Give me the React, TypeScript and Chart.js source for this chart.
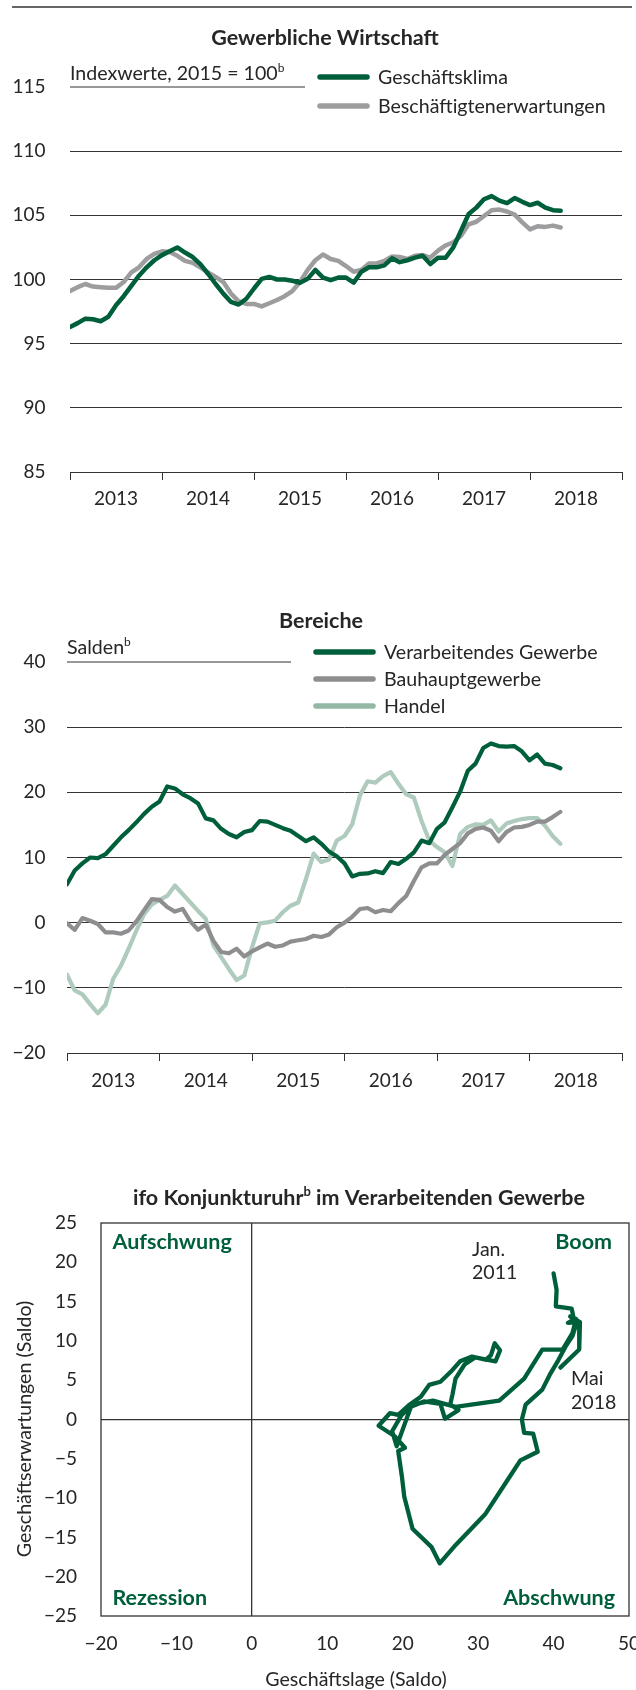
import React, { useEffect, useRef } from "react";
import { Chart, registerables } from "chart.js";

Chart.register(...registerables);

if (typeof document !== "undefined") {
  document.body.style.margin = "0";
}

const FONT = "Lato, 'Noto Sans', sans-serif";
const INK = "#262626";
const RULE = "#333333";
const GREEN = "#005f3b";
const GRAY = "#9d9d9f";
const GRAY_DARK = "#8e8e91";
const LIGHT_GREEN = "#aecbbd";
const LEGEND_LIGHT = "#93b9a6";

// ---------- Chart 1: Gewerbliche Wirtschaft (monthly, Jan 2013 – May 2018) ----------
const years = ["2013", "2014", "2015", "2016", "2017", "2018"];
const geschaeftsklima = [
  96.3, 96.6, 96.95, 96.9, 96.75, 97.1, 98.0, 98.7, 99.5, 100.3, 100.95, 101.5,
  101.9, 102.2, 102.5, 102.1, 101.75, 101.2, 100.45, 99.65, 98.9, 98.25, 98.05, 98.5,
  99.3, 100.05, 100.2, 100.0, 100.0, 99.9, 99.75, 100.05, 100.75, 100.15, 99.95, 100.15,
  100.15, 99.75, 100.6, 100.95, 100.95, 101.1, 101.65, 101.35, 101.5, 101.7, 101.85, 101.2,
  101.7, 101.7, 102.5, 103.8, 105.1, 105.6, 106.25, 106.5, 106.15, 105.95, 106.35, 106.05,
  105.8, 105.98, 105.6, 105.4, 105.35,
];
const beschaeftigtenerwartungen = [
  99.1, 99.4, 99.65, 99.45, 99.4, 99.35, 99.35, 99.8, 100.55, 100.95, 101.6, 102.0,
  102.2, 102.15, 101.85, 101.45, 101.3, 100.95, 100.55, 100.2, 99.8, 98.9, 98.3, 98.1,
  98.1, 97.9, 98.15, 98.4, 98.7, 99.1, 99.8, 100.75, 101.5, 101.95, 101.6, 101.45,
  101.05, 100.6, 100.75, 101.25, 101.25, 101.45, 101.8, 101.75, 101.6, 101.85, 101.9, 101.7,
  102.25, 102.65, 102.9, 103.4, 104.3, 104.5, 104.95, 105.4, 105.45, 105.3, 105.05, 104.45,
  103.9, 104.15, 104.1, 104.2, 104.05,
];

// ---------- Chart 2: Bereiche (Salden) ----------
const verarbeitendesGewerbe = [
  5.9, 8.0, 9.1, 10.0, 9.9, 10.5, 11.8, 13.1, 14.2, 15.4, 16.7, 17.8,
  18.6, 20.9, 20.6, 19.7, 19.1, 18.3, 16.0, 15.7, 14.4, 13.6, 13.1, 13.9,
  14.2, 15.6, 15.5, 15.0, 14.5, 14.1, 13.3, 12.5, 13.1, 12.1, 10.9, 10.2,
  9.1, 7.1, 7.5, 7.55, 7.9, 7.6, 9.3, 9.0, 9.8, 10.8, 12.6, 12.2,
  14.4, 15.4, 17.7, 20.1, 23.3, 24.4, 26.8, 27.5, 27.1, 27.0, 27.1, 26.3,
  24.9, 25.8, 24.4, 24.2, 23.7,
];
const bauhauptgewerbe = [
  -0.1, -1.1, 0.7, 0.3, -0.2, -1.5, -1.5, -1.7, -1.2, 0.2, 1.9, 3.6,
  3.5, 2.4, 1.7, 2.1, 0.2, -1.1, -0.3, -2.8, -4.5, -4.7, -4.0, -5.2,
  -4.4, -3.8, -3.2, -3.7, -3.5, -2.9, -2.7, -2.5, -2.0, -2.2, -1.8, -0.7,
  0.0, 0.9, 2.1, 2.25, 1.6, 1.95, 1.75, 3.0, 4.1, 6.4, 8.5, 9.1,
  9.1, 10.4, 11.3, 12.2, 13.7, 14.4, 14.6, 14.1, 12.5, 13.9, 14.6, 14.7,
  15.0, 15.5, 15.5, 16.2, 17.0,
];
const handel = [
  -8.0, -10.4, -11.0, -12.5, -13.9, -12.6, -8.6, -6.6, -4.0, -1.2, 1.3, 2.8,
  3.5, 4.1, 5.7, 4.4, 3.1, 1.8, 0.6, -3.5, -5.3, -7.1, -8.8, -8.1,
  -3.8, -0.1, 0.05, 0.3, 1.6, 2.6, 3.1, 6.7, 10.6, 9.3, 9.7, 12.6,
  13.3, 15.1, 19.5, 21.7, 21.5, 22.5, 23.1, 21.3, 19.7, 19.2, 15.6, 12.6,
  11.6, 10.8, 8.7, 13.6, 14.7, 15.1, 15.0, 15.7, 14.0, 15.2, 15.6, 15.9,
  16.05, 16.05, 14.9, 13.3, 12.1,
];

// ---------- Chart 3: ifo Konjunkturuhr (Jan 2011 – May 2018) ----------
const geschaeftslage = [
  40.0, 40.4, 40.3, 42.4, 42.7, 41.9, 43.1, 42.5, 41.6, 40.6, 39.5, 38.5,
  36.3, 35.8, 36.1, 37.3, 37.9, 35.6, 33.9, 30.9, 26.8, 24.9, 23.8, 21.3,
  20.2, 19.9, 19.4, 20.3, 18.9, 16.8, 18.3, 19.4, 20.8, 22.4, 23.5, 25.0,
  26.4, 27.6, 29.2, 31.0, 31.7, 32.2, 32.9, 32.3, 29.6, 28.2, 27.0, 26.6,
  26.3, 27.4, 25.6, 25.0, 22.8, 21.0, 19.8, 18.6, 19.2, 20.1, 21.2, 24.0,
  27.0, 32.8, 36.1, 38.5, 41.2, 42.5, 43.0, 42.2, 43.5, 43.4, 40.9,
];
const geschaeftserwartungen = [
  18.6, 16.5, 14.4, 14.1, 12.7, 12.3, 12.4, 10.6, 9.3, 7.5, 5.7, 3.8,
  1.9, 0.0, -1.7, -1.8, -4.1, -5.2, -7.7, -12.1, -16.2, -18.3, -16.2, -13.9,
  -9.8, -7.3, -4.0, -3.6, -2.1, -0.8, 0.8, 0.6, 1.8, 2.9, 4.4, 4.8,
  6.1, 7.4, 8.0, 7.6, 8.2, 9.7, 8.8, 7.4, 7.9, 7.0, 5.2, 3.2,
  1.9, 1.2, 0.1, 2.0, 2.3, 1.6, 0.5, -1.5, -3.4, -1.0, 1.9, 2.4,
  1.6, 2.4, 5.2, 8.9, 8.9, 11.0, 12.8, 13.1, 12.4, 8.9, 6.6,
];

// ---------- helpers ----------
const toXY = (arr: number[]) => arr.map((y, i) => ({ x: i, y }));
const fmt = (v: number) => (v < 0 ? "\u2212" + Math.abs(v) : String(v));

type Part = [string, boolean];

function drawRich(
  ctx: CanvasRenderingContext2D,
  parts: Part[],
  x: number,
  y: number,
  size: number,
  weight: string,
  color: string,
  align: "left" | "center" | "right" = "left"
) {
  const base = `${weight} ${size}px ${FONT}`;
  const sup = `${weight} ${Math.round(size * 0.6)}px ${FONT}`;
  let total = 0;
  parts.forEach(([t, s]) => {
    ctx.font = s ? sup : base;
    total += ctx.measureText(t).width;
  });
  let cx = align === "center" ? x - total / 2 : align === "right" ? x - total : x;
  ctx.fillStyle = color;
  ctx.textBaseline = "alphabetic";
  ctx.textAlign = "left";
  parts.forEach(([t, s]) => {
    ctx.font = s ? sup : base;
    ctx.fillText(t, cx, s ? y - size * 0.4 : y);
    cx += ctx.measureText(t).width;
  });
}

function hline(ctx: CanvasRenderingContext2D, x1: number, x2: number, y: number, color: string, w: number, cap: CanvasLineCap = "butt") {
  ctx.beginPath();
  ctx.strokeStyle = color;
  ctx.lineWidth = w;
  ctx.lineCap = cap;
  ctx.moveTo(x1, y);
  ctx.lineTo(x2, y);
  ctx.stroke();
}

function legend(ctx: CanvasRenderingContext2D, items: { label: string; color: string; y: number; base: number }[], x1: number, x2: number, tx: number) {
  items.forEach((it) => {
    hline(ctx, x1, x2, it.y, it.color, 5.5, "round");
    drawRich(ctx, [[it.label, false]], tx, it.base, 19.6, "normal", INK);
  });
}

function ChartCanvas({ height, make }: { height: number; make: () => any }) {
  const ref = useRef<HTMLCanvasElement | null>(null);
  useEffect(() => {
    if (!ref.current) return;
    const chart = new Chart(ref.current, make());
    return () => chart.destroy();
  }, []);
  return (
    <canvas ref={ref} width={636} height={height} style={{ display: "block", width: 636, height }} />
  );
}

const tickFont = { family: FONT, size: 19 };
const BOLD = 21.5;

const noPad = (s: any) => {
  s.paddingLeft = 0;
  s.paddingRight = 0;
  s.paddingTop = 0;
  s.paddingBottom = 0;
};

function timeSeriesConfig(opts: {
  height: number;
  top: number;
  bottom: number;
  left: number;
  right: number;
  yMin: number;
  yMax: number;
  step: number;
  yPad: number;
  xPad: number;
  datasets: any[];
  deco: any;
}) {
  return {
    type: "line",
    data: { labels: years, datasets: opts.datasets },
    options: {
      responsive: false,
      animation: false,
      devicePixelRatio: 1,
      layout: {
        autoPadding: false,
        padding: { top: opts.top, bottom: 0, left: 0, right: 636 - opts.right },
      },
      plugins: { legend: { display: false }, tooltip: { enabled: false }, title: { display: false } },
      scales: {
        x: {
          type: "category",
          offset: true,
          grid: { offset: true, drawOnChartArea: false, drawTicks: true, tickLength: 8, color: RULE, lineWidth: 1 },
          border: { display: true, color: RULE, width: 1 },
          ticks: { font: tickFont, color: INK, padding: opts.xPad, maxRotation: 0, autoSkip: false },
          afterFit: (s: any) => {
            s.height = opts.height - opts.bottom;
            noPad(s);
          },
        },
        x2: { type: "linear", min: 0, max: 72, display: false },
        y: {
          min: opts.yMin,
          max: opts.yMax,
          border: { display: false },
          grid: {
            drawTicks: false,
            lineWidth: 1,
            color: (c: any) => (c.tick && c.tick.value === opts.yMax ? "rgba(0,0,0,0)" : RULE),
          },
          ticks: { stepSize: opts.step, font: tickFont, color: INK, padding: opts.yPad, callback: (v: any) => fmt(Number(v)) },
          afterFit: (s: any) => {
            s.width = opts.left;
            noPad(s);
          },
        },
      },
      elements: { point: { radius: 0 }, line: { tension: 0, borderJoinStyle: "round", borderCapStyle: "round" } },
    },
    plugins: [opts.deco],
  };
}

function makeChart1() {
  const deco = {
    id: "deco1",
    afterDraw(chart: any) {
      const { ctx, chartArea, scales } = chart;
      ctx.save();
      hline(ctx, 12, 632, 7, RULE, 1.5);
      drawRich(ctx, [["Gewerbliche Wirtschaft", false]], 325, 45, BOLD, "bold", INK, "center");
      const yTop = scales.y.getPixelForValue(115);
      hline(ctx, chartArea.left, 305, yTop, RULE, 1);
      drawRich(ctx, [["Indexwerte, 2015 = 100", false], ["b", true]], chartArea.left, 80, 19.6, "normal", INK);
      legend(
        ctx,
        [
          { label: "Geschäftsklima", color: GREEN, y: 77, base: 84 },
          { label: "Beschäftigtenerwartungen", color: GRAY, y: 106, base: 113 },
        ],
        320,
        367,
        378
      );
      ctx.restore();
    },
  };
  return timeSeriesConfig({
    height: 520,
    top: 87,
    bottom: 472,
    left: 70,
    right: 622,
    yMin: 85,
    yMax: 115,
    step: 5,
    yPad: 24.5,
    xPad: 7,
    deco,
    datasets: [
      { label: "Geschäftsklima", data: toXY(geschaeftsklima), xAxisID: "x2", borderColor: GREEN, borderWidth: 4.5 },
      { label: "Beschäftigtenerwartungen", data: toXY(beschaeftigtenerwartungen), xAxisID: "x2", borderColor: GRAY, borderWidth: 4.5 },
    ],
  });
}

function makeChart2() {
  const deco = {
    id: "deco2",
    afterDraw(chart: any) {
      const { ctx, chartArea, scales } = chart;
      ctx.save();
      drawRich(ctx, [["Bereiche", false]], 321, 108, BOLD, "bold", INK, "center");
      const yTop = scales.y.getPixelForValue(40);
      hline(ctx, chartArea.left, 291, yTop, RULE, 1);
      drawRich(ctx, [["Salden", false], ["b", true]], chartArea.left, 134, 19.6, "normal", INK);
      legend(
        ctx,
        [
          { label: "Verarbeitendes Gewerbe", color: GREEN, y: 132, base: 139 },
          { label: "Bauhauptgewerbe", color: GRAY_DARK, y: 159, base: 166 },
          { label: "Handel", color: LEGEND_LIGHT, y: 186, base: 193 },
        ],
        316,
        373,
        384
      );
      ctx.restore();
    },
  };
  return timeSeriesConfig({
    height: 580,
    top: 142,
    bottom: 533,
    left: 67,
    right: 622,
    yMin: -20,
    yMax: 40,
    step: 10,
    yPad: 21.5,
    xPad: 8,
    deco,
    datasets: [
      { label: "Verarbeitendes Gewerbe", data: toXY(verarbeitendesGewerbe), xAxisID: "x2", borderColor: GREEN, borderWidth: 4.2 },
      { label: "Bauhauptgewerbe", data: toXY(bauhauptgewerbe), xAxisID: "x2", borderColor: GRAY_DARK, borderWidth: 4.2 },
      { label: "Handel", data: toXY(handel), xAxisID: "x2", borderColor: LIGHT_GREEN, borderWidth: 4.2 },
    ],
  });
}

function makeChart3() {
  const H = 590;
  const deco = {
    id: "deco3",
    afterDraw(chart: any) {
      const { ctx, chartArea } = chart;
      ctx.save();
      drawRich(
        ctx,
        [
          ["ifo Konjunkturuhr", false],
          ["b", true],
          [" im Verarbeitenden Gewerbe", false],
        ],
        359,
        105,
        BOLD,
        "bold",
        INK,
        "center"
      );
      ctx.strokeStyle = RULE;
      ctx.lineWidth = 1.3;
      ctx.strokeRect(chartArea.left, chartArea.top, chartArea.right - chartArea.left, chartArea.bottom - chartArea.top);
      drawRich(ctx, [["Aufschwung", false]], 112.5, 149, BOLD, "bold", GREEN);
      drawRich(ctx, [["Boom", false]], 612, 149, BOLD, "bold", GREEN, "right");
      drawRich(ctx, [["Rezession", false]], 112.5, 505, BOLD, "bold", GREEN);
      drawRich(ctx, [["Abschwung", false]], 615, 505, BOLD, "bold", GREEN, "right");
      drawRich(ctx, [["Jan.", false]], 472, 156, 19.6, "normal", INK);
      drawRich(ctx, [["2011", false]], 472, 179, 19.6, "normal", INK);
      drawRich(ctx, [["Mai", false]], 571, 285, 19.6, "normal", INK);
      drawRich(ctx, [["2018", false]], 571, 309, 19.6, "normal", INK);
      drawRich(ctx, [["Geschäftslage (Saldo)", false]], 356, 586, 19.6, "normal", INK, "center");
      ctx.translate(25, 329);
      ctx.rotate(-Math.PI / 2);
      ctx.font = `normal 19.6px ${FONT}`;
      ctx.fillStyle = INK;
      ctx.textAlign = "center";
      ctx.textBaseline = "middle";
      ctx.fillText("Geschäftserwartungen (Saldo)", 0, 0);
      ctx.restore();
    },
  };
  const zeroGrid = (c: any) => (c.tick && c.tick.value === 0 ? RULE : "rgba(0,0,0,0)");
  return {
    type: "scatter",
    data: {
      datasets: [
        {
          label: "Konjunkturuhr",
          data: geschaeftslage.map((x, i) => ({ x, y: geschaeftserwartungen[i] })),
          showLine: true,
          borderColor: GREEN,
          backgroundColor: GREEN,
          borderWidth: 4.3,
          pointRadius: 0,
          tension: 0,
          borderJoinStyle: "round",
          borderCapStyle: "round",
        },
      ],
    },
    options: {
      responsive: false,
      animation: false,
      devicePixelRatio: 1,
      layout: { autoPadding: false, padding: { top: 123, bottom: 0, left: 0, right: 636 - 629 } },
      plugins: { legend: { display: false }, tooltip: { enabled: false } },
      scales: {
        x: {
          type: "linear",
          min: -20,
          max: 50,
          border: { display: false },
          grid: { drawTicks: false, color: zeroGrid, lineWidth: 1.3 },
          ticks: { stepSize: 10, font: tickFont, color: INK, padding: 16, maxRotation: 0, callback: (v: any) => fmt(Number(v)) },
          afterFit: (s: any) => {
            s.height = H - 516;
            noPad(s);
          },
        },
        y: {
          type: "linear",
          min: -25,
          max: 25,
          border: { display: false },
          grid: { drawTicks: false, color: zeroGrid, lineWidth: 1.3 },
          ticks: { stepSize: 5, font: tickFont, color: INK, padding: 24, callback: (v: any) => fmt(Number(v)) },
          afterFit: (s: any) => {
            s.width = 101;
            noPad(s);
          },
        },
      },
    },
    plugins: [deco],
  };
}

export default function App() {
  return (
    <div style={{ width: 636, background: "#fff" }}>
      <ChartCanvas height={520} make={makeChart1} />
      <ChartCanvas height={580} make={makeChart2} />
      <ChartCanvas height={590} make={makeChart3} />
    </div>
  );
}
